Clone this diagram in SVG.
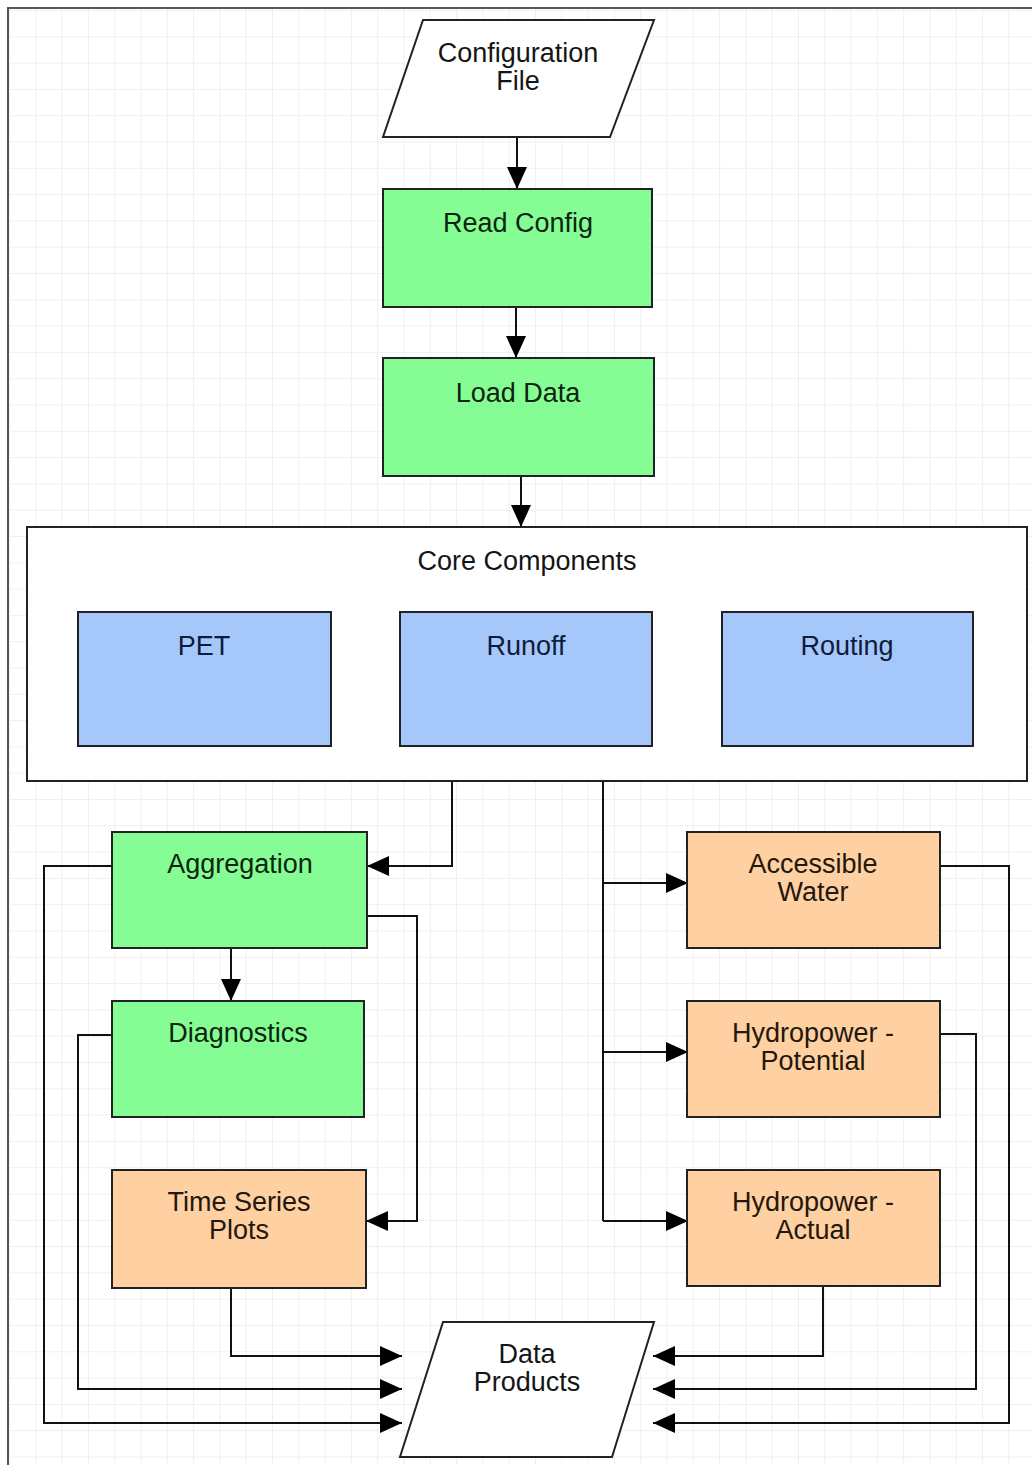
<svg xmlns="http://www.w3.org/2000/svg" width="1032" height="1465" viewBox="0 0 1032 1465">
<defs>
<pattern id="grid" x="9" y="10" width="26.3" height="26.3" patternUnits="userSpaceOnUse">
<path d="M0 0.5 H26.3 M0.5 0 V26.3" fill="none" stroke="#efefef" stroke-width="1"/>
</pattern>
<marker id="arr" markerUnits="userSpaceOnUse" markerWidth="22" markerHeight="20" refX="22" refY="10" orient="auto">
<path d="M0,0 L22,10 L0,20 z" fill="#000"/>
</marker>
<style>
.box{stroke:#222;stroke-width:2}
.g{fill:#85fd94}
.b{fill:#a6c7fa}
.o{fill:#fed0a2}
.w{fill:#fff}
text{font-family:"Liberation Sans",Arial,sans-serif;font-size:27px;text-anchor:middle}
.tg{fill:#0c2410}
.tb{fill:#0e1c3c}
.to{fill:#24170c}
.tw{fill:#151515}
.c{fill:none;stroke:#111;stroke-width:2;marker-end:url(#arr)}
.l{fill:none;stroke:#111;stroke-width:2}
</style>
</defs>
<rect x="0" y="0" width="1032" height="1465" fill="#fff"/>
<rect x="8" y="8" width="1024" height="1457" fill="url(#grid)"/>
<path d="M8 1465 V8 H1032" fill="none" stroke="#555" stroke-width="2"/>

<g id="connectors">
<path class="c" d="M517 137 V189"/>
<path class="c" d="M516 307 V358"/>
<path class="c" d="M521 476 V527"/>
<path class="c" d="M331 678 H400"/>
<path class="c" d="M652 678 H722"/>
<path class="c" d="M452 781 V866 H367"/>
<path class="c" d="M231 948 V1001"/>
<path class="c" d="M367 916 H417 V1221 H366"/>
<path class="c" d="M112 866 H44 V1423 H402"/>
<path class="c" d="M112 1035 H78 V1389 H402"/>
<path class="c" d="M231 1288 V1356 H402"/>
<path class="l" d="M603 781 V1221"/>
<path class="c" d="M603 883 H688"/>
<path class="c" d="M603 1052 H688"/>
<path class="c" d="M603 1221 H688"/>
<path class="c" d="M940 866 H1009 V1423 H653"/>
<path class="c" d="M940 1034 H976 V1389 H653"/>
<path class="c" d="M823 1286 V1356 H653"/>
</g>

<g id="config-file">
<polygon class="box w" points="423,20 654,20 610,137 383,137"/>
<text class="tw" x="518" y="62">Configuration</text>
<text class="tw" x="518" y="90">File</text>
</g>
<g id="read-config">
<rect class="box g" x="383" y="189" width="269" height="118"/>
<text class="tg" x="518" y="232">Read Config</text>
</g>
<g id="load-data">
<rect class="box g" x="383" y="358" width="271" height="118"/>
<text class="tg" x="518" y="402">Load Data</text>
</g>
<g id="core-components">
<rect class="box w" x="27" y="527" width="1000" height="254"/>
<text class="tw" x="527" y="570">Core Components</text>
</g>
<g id="pet">
<rect class="box b" x="78" y="612" width="253" height="134"/>
<text class="tb" x="204" y="655">PET</text>
</g>
<g id="runoff">
<rect class="box b" x="400" y="612" width="252" height="134"/>
<text class="tb" x="526" y="655">Runoff</text>
</g>
<g id="routing">
<rect class="box b" x="722" y="612" width="251" height="134"/>
<text class="tb" x="847" y="655">Routing</text>
</g>
<g id="aggregation">
<rect class="box g" x="112" y="832" width="255" height="116"/>
<text class="tg" x="240" y="873">Aggregation</text>
</g>
<g id="diagnostics">
<rect class="box g" x="112" y="1001" width="252" height="116"/>
<text class="tg" x="238" y="1042">Diagnostics</text>
</g>
<g id="time-series-plots">
<rect class="box o" x="112" y="1170" width="254" height="118"/>
<text class="to" x="239" y="1211">Time Series</text>
<text class="to" x="239" y="1239">Plots</text>
</g>
<g id="accessible-water">
<rect class="box o" x="687" y="832" width="253" height="116"/>
<text class="to" x="813" y="873">Accessible</text>
<text class="to" x="813" y="901">Water</text>
</g>
<g id="hydropower-potential">
<rect class="box o" x="687" y="1001" width="253" height="116"/>
<text class="to" x="813" y="1042">Hydropower -</text>
<text class="to" x="813" y="1070">Potential</text>
</g>
<g id="hydropower-actual">
<rect class="box o" x="687" y="1170" width="253" height="116"/>
<text class="to" x="813" y="1211">Hydropower -</text>
<text class="to" x="813" y="1239">Actual</text>
</g>
<g id="data-products">
<polygon class="box w" points="443,1322 654,1322 612,1457 400,1457"/>
<text class="tw" x="527" y="1363">Data</text>
<text class="tw" x="527" y="1391">Products</text>
</g>
</svg>
